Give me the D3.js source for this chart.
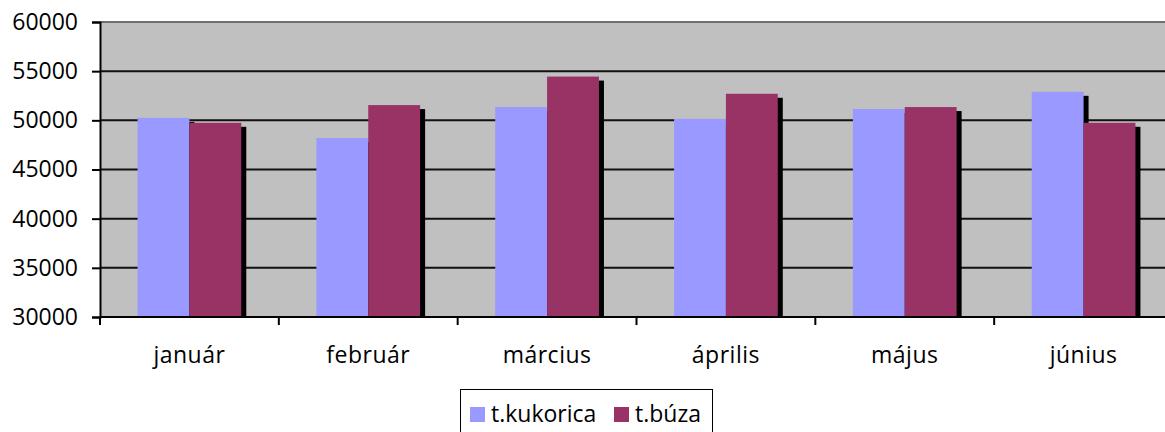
<!DOCTYPE html>
<html>
<head>
<meta charset="utf-8">
<script src="https://cdn.jsdelivr.net/npm/d3@7"></script>
<style>
  body { margin: 0; background: #fff; }
  text { font-family: "Open Sans", sans-serif; fill: #000; }
</style>
</head>
<body>
<div id="chart"></div>
<script>
// chart data
const months = ["január", "február", "március", "április", "május", "június"];
const series = ["t.kukorica", "t.búza"];
const kukorica = [50250, 48200, 51350, 50150, 51150, 52900];
const buza = [49750, 51550, 54450, 52700, 51350, 49750];
const yTicks = [30000, 35000, 40000, 45000, 50000, 55000, 60000];
const colors = ["#9999FF", "#993366"];

const width = 1165;
const height = 432;
const plot = {left: 100, right: 1173, top: 22, bottom: 317};

const svg = d3.select("#chart")
  .append("svg")
  .attr("width", width)
  .attr("height", height);

const rows = months.map((m, i) => ({month: m, values: [kukorica[i], buza[i]]}));

// scales
const yScale = d3.scaleLinear()
  .domain([30000, 60000])
  .range([plot.bottom, plot.top]);

const xScale = d3.scaleBand()
  .domain(months)
  .range([plot.left, plot.right]);

const bw = xScale.bandwidth();
const gap = bw * 0.21;
const xInner = d3.scaleBand()
  .domain(d3.range(series.length))
  .range([gap, bw - gap]);

// clip so shadows stay inside the plot
svg.append("clipPath").attr("id", "plotclip")
  .append("rect")
  .attr("x", plot.left).attr("y", plot.top)
  .attr("width", plot.right - plot.left)
  .attr("height", plot.bottom - plot.top);

// plot background
svg.append("rect")
  .attr("x", plot.left).attr("y", plot.top)
  .attr("width", plot.right - plot.left)
  .attr("height", plot.bottom - plot.top)
  .attr("fill", "#C0C0C0");

// gridlines
svg.append("g")
  .selectAll("line")
  .data(yTicks.slice(1, -1))
  .enter()
  .append("line")
    .attr("x1", plot.left).attr("x2", plot.right)
    .attr("y1", d => yScale(d)).attr("y2", d => yScale(d))
    .attr("stroke", "#111")
    .attr("stroke-width", 2);

// top border of plot area
svg.append("line")
  .attr("x1", plot.left).attr("x2", plot.right)
  .attr("y1", yScale(60000)).attr("y2", yScale(60000))
  .attr("stroke", "#707070")
  .attr("stroke-width", 2);

// bars with drop shadow
const groups = svg.append("g")
  .attr("clip-path", "url(#plotclip)")
  .selectAll(".grp")
  .data(rows)
  .enter()
  .append("g")
    .attr("class", "grp")
    .attr("transform", d => `translate(${xScale(d.month)},0)`);

series.forEach((s, si) => {
  groups.append("rect")
    .attr("x", xInner(si) + 5)
    .attr("y", d => yScale(d.values[si]) + 4)
    .attr("width", xInner.bandwidth())
    .attr("height", d => plot.bottom - yScale(d.values[si]))
    .attr("fill", "#000");
  groups.append("rect")
    .attr("x", xInner(si))
    .attr("y", d => yScale(d.values[si]))
    .attr("width", xInner.bandwidth())
    .attr("height", d => plot.bottom - yScale(d.values[si]))
    .attr("fill", colors[si]);
});

// y axis
const yAxis = svg.append("g")
  .attr("transform", `translate(${plot.left},0)`)
  .call(d3.axisLeft(yScale).tickValues(yTicks).tickSize(8).tickPadding(14).tickFormat(d3.format("d")));
yAxis.select(".domain").attr("stroke", "#000").attr("stroke-width", 2);
yAxis.selectAll(".tick line").attr("stroke", "#000").attr("stroke-width", 2);
yAxis.selectAll("text").attr("font-size", "23px").attr("fill", "#000")
  .style("font-family", "'Open Sans', sans-serif");

// x axis line and boundary ticks
const xAxis = svg.append("g");
xAxis.append("line")
  .attr("x1", plot.left).attr("x2", plot.right)
  .attr("y1", plot.bottom).attr("y2", plot.bottom)
  .attr("stroke", "#000").attr("stroke-width", 2);
xAxis.selectAll(".bt")
  .data(months.slice(1))
  .enter()
  .append("line")
    .attr("x1", d => xScale(d)).attr("x2", d => xScale(d))
    .attr("y1", plot.bottom).attr("y2", plot.bottom + 8)
    .attr("stroke", "#000").attr("stroke-width", 2);
xAxis.append("line")
  .attr("x1", plot.left).attr("x2", plot.left)
  .attr("y1", plot.bottom).attr("y2", plot.bottom + 8)
  .attr("stroke", "#000").attr("stroke-width", 2);
xAxis.selectAll("text")
  .data(months)
  .enter()
  .append("text")
    .attr("x", d => xScale(d) + bw / 2)
    .attr("y", 363)
    .attr("text-anchor", "middle")
    .attr("font-size", "23px")
    .attr("letter-spacing", "0.5px")
    .text(d => d);

// legend
const legend = svg.append("g");
legend.append("rect")
  .attr("x", 460.5).attr("y", 389.5)
  .attr("width", 252).attr("height", 60)
  .attr("fill", "#fff")
  .attr("stroke", "#000")
  .attr("stroke-width", 1);
const legendX = [470, 614];
series.forEach((s, si) => {
  legend.append("rect")
    .attr("x", legendX[si]).attr("y", 407)
    .attr("width", 15).attr("height", 15)
    .attr("fill", colors[si]);
  legend.append("text")
    .attr("x", legendX[si] + 21)
    .attr("y", 422)
    .attr("font-size", "23px")
    .text(s);
});
</script>
</body>
</html>
